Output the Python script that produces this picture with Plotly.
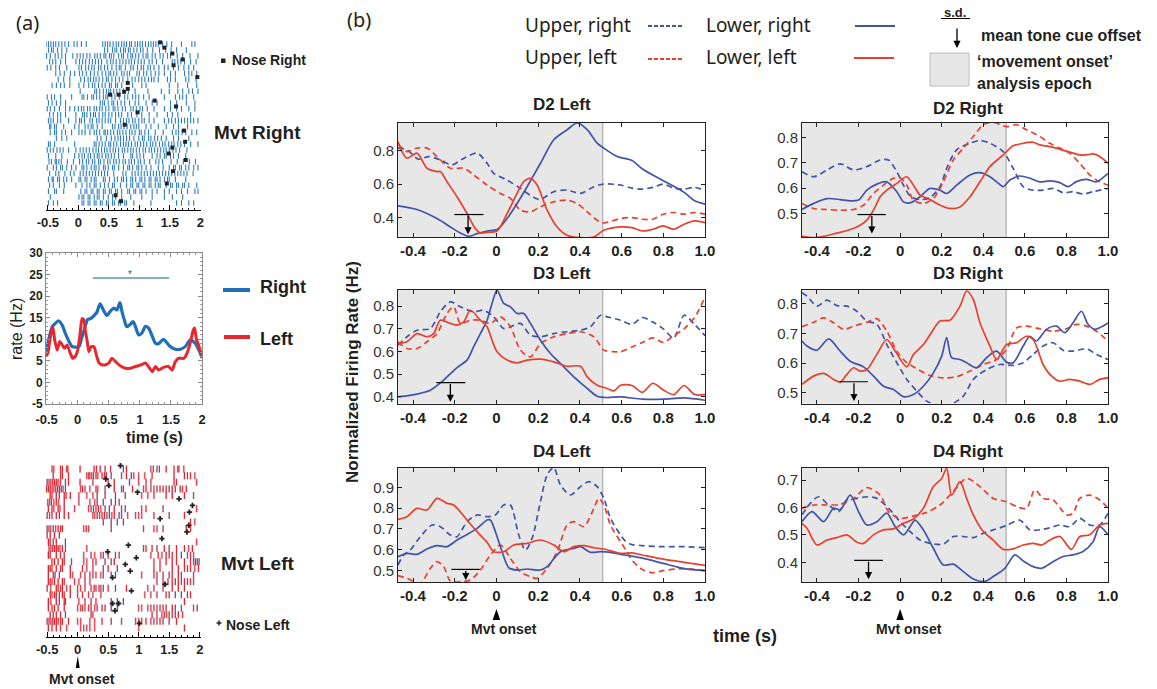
import plotly.graph_objects as go

W, H = 1157, 689
def fx(p): return p / W
def fy(p): return 1 - p / H

SANS = "Liberation Sans"
LEG = "Noto Sans"
INK = "#231f20"
BLUE_B = "#4354a6"
RED_B = "#e8402f"

# ------------------------------------------------------------------ panel (a) data
RASTER_RIGHT = [
    [-0.53,-0.49,-0.45,-0.41,-0.37,-0.32,-0.27,-0.22,-0.16,-0.07,-0.02,0.05,0.13,0.40,0.44,0.48,0.52,0.57,0.62,0.66,0.71,0.75,0.79,0.84,0.87,0.93,0.97,1.01,1.05,1.10,1.15,1.19,1.23,1.27,1.31,1.38,1.45,1.53,1.69,1.86,1.91],
    [-0.49,-0.44,-0.41,-0.34,-0.27,-0.19,0.43,0.48,0.56,0.60,0.63,0.69,0.74,0.77,0.82,0.85,0.91,0.96,1.02,1.06,1.13,1.22,1.33,1.43,1.52,1.61,1.77],
    [-0.52,-0.46,-0.38,-0.33,-0.27,-0.21,-0.09,-0.02,0.03,0.08,0.14,0.19,0.27,0.31,0.36,0.42,0.45,0.51,0.54,0.58,0.66,0.71,0.74,0.81,0.86,0.89,0.94,0.99,1.06,1.11,1.14,1.21,1.26,1.34,1.39,1.46,1.51,1.62,1.71,1.83,1.96],
    [-0.47,-0.42,-0.37,-0.29,-0.21,-0.04,0.02,0.07,0.12,0.18,0.23,0.28,0.33,0.38,0.47,0.53,0.57,0.62,0.68,0.73,0.78,0.83,0.87,0.92,0.98,1.03,1.08,1.16,1.21,1.28,1.38,1.54,1.58,1.63,1.68,1.74,1.84,1.93],
    [-0.51,-0.45,-0.37,-0.31,-0.19,0.01,0.05,0.12,0.17,0.22,0.26,0.33,0.37,0.43,0.48,0.55,0.62,0.67,0.70,0.77,0.86,0.90,0.97,1.03,1.07,1.14,1.18,1.24,1.32,1.41,1.47,1.56,1.64,1.73,1.81,1.89],
    [-0.37,-0.30,-0.23,-0.13,-0.06,0.02,0.07,0.13,0.20,0.26,0.32,0.39,0.45,0.50,0.53,0.58,0.63,0.71,0.75,0.80,0.84,0.96,1.00,1.07,1.12,1.19,1.26,1.32,1.41,1.51,1.59,1.74,1.81,1.86,1.94],
    [-0.33,-0.24,-0.14,0.04,0.10,0.16,0.20,0.25,0.29,0.34,0.40,0.46,0.49,0.55,0.61,0.67,0.73,0.81,0.88,0.93,0.99,1.04,1.09,1.15,1.20,1.24,1.31,1.46,1.51,1.59,1.76,1.81,1.93],
    [-0.43,-0.36,-0.29,-0.23,-0.14,0.01,0.09,0.17,0.23,0.27,0.33,0.39,0.44,0.51,0.54,0.61,0.64,0.71,0.89,1.04,1.11,1.49,1.63,1.79,1.94],
    [0.03,0.27,0.30,0.35,0.41,0.46,0.50,0.53,0.58,0.63,0.68,0.74,0.82,0.93,1.14,1.36,1.49,1.63,1.71,1.81,1.87,1.96],
    [-0.51,-0.44,-0.39,-0.29,-0.11,0.06,0.09,0.15,0.22,0.25,0.30,0.35,0.41,0.45,0.48,0.55,0.60,0.67,0.76,0.81,0.89,0.94,0.99,1.07,1.16,1.41,1.59,1.66,1.71,1.77,1.89],
    [-0.49,-0.43,-0.36,-0.29,-0.21,0.36,0.40,0.43,0.49,0.55,0.58,0.64,0.70,0.76,0.84,0.93,0.99,1.11,1.21,1.29,1.51,1.61,1.77,1.91],
    [-0.51,-0.46,-0.39,-0.31,-0.21,-0.14,-0.06,0.00,0.05,0.09,0.15,0.19,0.26,0.30,0.35,0.39,0.45,0.50,0.57,0.60,0.65,0.72,0.77,0.86,0.90,0.95,1.01,1.05,1.13,1.24,1.41,1.51,1.61,1.69,1.81,1.91],
    [-0.47,-0.41,-0.34,-0.29,-0.21,-0.04,0.07,0.10,0.14,0.20,0.25,0.28,0.34,0.40,0.44,0.50,0.55,0.61,0.66,0.71,0.81,0.87,0.96,1.04,1.16,1.29,1.46,1.54,1.63,1.84],
    [-0.49,-0.45,-0.41,-0.34,-0.29,-0.16,-0.04,0.02,0.05,0.10,0.19,0.23,0.30,0.34,0.39,0.44,0.49,0.53,0.61,0.69,0.74,0.79,0.83,0.89,0.93,0.99,1.04,1.08,1.16,1.24,1.41,1.48,1.53,1.59,1.64,1.69,1.74,1.79,1.84,1.89,1.96],
    [-0.47,-0.45,-0.39,-0.36,-0.24,-0.06,0.01,0.11,0.16,0.21,0.24,0.31,0.39,0.56,0.60,0.66,0.70,0.75,0.80,0.86,0.91,0.95,0.99,1.11,1.19,1.31,1.44,1.56,1.64,1.79],
    [-0.46,-0.39,-0.36,-0.27,-0.21,-0.11,0.01,0.06,0.11,0.19,0.26,0.30,0.35,0.42,0.44,0.48,0.53,0.58,0.64,0.68,0.73,0.78,0.84,0.88,0.93,1.00,1.03,1.09,1.15,1.26,1.39,1.54,1.60,1.64,1.70,1.76,1.86,1.94],
    [-0.36,-0.27,-0.19,0.31,0.37,0.46,0.54,0.60,0.65,0.69,0.74,0.79,0.84,0.91,0.99,1.05,1.08,1.15,1.19,1.25,1.30,1.36,1.44,1.56,1.64,1.81],
    [-0.49,-0.46,-0.39,-0.06,0.26,0.29,0.34,0.39,0.44,0.50,0.53,0.58,0.63,0.69,0.74,0.78,0.82,0.87,0.93,0.97,1.02,1.07,1.12,1.18,1.22,1.27,1.33,1.38,1.42,1.48,1.53,1.57,1.63,1.68,1.74,1.84,1.96],
    [-0.51,-0.46,-0.41,-0.35,-0.30,-0.25,-0.16,-0.04,0.03,0.08,0.13,0.18,0.24,0.29,0.33,0.38,0.43,0.47,0.52,0.57,0.61,0.66,0.72,0.76,0.81,0.86,0.90,0.95,1.00,1.06,1.10,1.16,1.20,1.25,1.30,1.35,1.40,1.44,1.49,1.55,1.60,1.66,1.78],
    [-0.49,-0.37,-0.27,-0.06,0.01,0.06,0.10,0.16,0.20,0.26,0.31,0.34,0.39,0.45,0.49,0.54,0.59,0.66,0.74,0.86,0.89,0.96,1.01,1.07,1.21,1.29,1.34,1.41,1.44,1.51,1.56,1.64,1.76],
    [-0.48,-0.44,-0.38,-0.36,-0.32,-0.28,-0.18,-0.08,0.02,0.07,0.13,0.17,0.23,0.27,0.33,0.36,0.42,0.48,0.52,0.58,0.62,0.67,0.73,0.77,0.83,0.87,0.92,0.98,1.02,1.08,1.17,1.27,1.32,1.38,1.52,1.62,1.72,1.82,1.92],
    [-0.51,-0.41,-0.36,-0.29,-0.26,-0.19,-0.11,-0.04,0.06,0.09,0.14,0.21,0.26,0.29,0.34,0.41,0.44,0.49,0.56,0.59,0.66,0.74,0.81,0.84,0.89,0.96,0.99,1.04,1.11,1.19,1.31,1.39,1.49,1.56,1.59,1.66,1.69,1.76,1.81,1.89,1.96],
    [-0.47,-0.37,-0.32,-0.22,-0.13,-0.07,0.03,0.08,0.13,0.18,0.23,0.28,0.33,0.38,0.43,0.48,0.58,0.73,0.78,0.88,0.93,0.98,1.03,1.08,1.13,1.18,1.23,1.28,1.33,1.38,1.43,1.48,1.53,1.58,1.63,1.68,1.73,1.78,1.88],
    [-0.49,-0.43,-0.41,-0.34,-0.31,-0.24,-0.19,-0.11,0.01,0.04,0.11,0.14,0.21,0.26,0.29,0.41,0.44,0.51,0.59,0.64,0.71,0.74,0.79,0.86,0.89,0.94,1.01,1.04,1.09,1.16,1.19,1.26,1.29,1.34,1.41,1.46,1.49,1.59,1.76],
    [-0.47,-0.41,-0.31,-0.23,-0.04,0.06,0.14,0.19,0.26,0.29,0.36,0.43,0.49,0.56,0.59,0.69,0.79,0.86,0.89,0.96,0.99,1.06,1.09,1.16,1.19,1.26,1.31,1.34,1.44,1.51,1.54,1.61,1.64,1.71,1.74,1.81,1.94],
    [-0.49,-0.39,-0.36,-0.24,0.04,0.11,0.14,0.21,0.24,0.31,0.34,0.41,0.44,0.51,0.54,0.61,0.64,0.71,0.81,0.84,0.91,0.94,1.01,1.04,1.11,1.21,1.29,1.41,1.49,1.61,1.69,1.79,1.91,1.96],
    [-0.46,0.01,0.06,0.09,0.16,0.19,0.26,0.31,0.34,0.41,0.49,0.56,0.61,0.71,0.86,1.04,1.21,1.41,1.54,1.71],
    [-0.49,-0.41,-0.34,0.06,0.09,0.16,0.19,0.26,0.29,0.36,0.39,0.46,0.49,0.56,0.59,0.66,0.69,0.76,0.79,0.91,1.19,1.61,1.69,1.81,1.89],
]
NOSE_RIGHT_T = [1.34,1.41,1.54,1.71,1.56,1.95,0.81,0.81,0.75,0.52,0.66,1.25,1.60,0.97,0.76,1.73,1.75,1.54,1.48,1.76,1.55,1.45,0.61,0.70]
NOSE_RIGHT_ROW = [-0.3,0.6,1.6,2.6,3.6,5.6,6.6,7.6,8.1,8.6,8.6,9.6,10.6,11.6,13.7,14.7,16.6,17.6,18.6,19.7,21.6,23.7,25.7,26.7]

RASTER_LEFT = [
    [-0.42,-0.39,-0.28,-0.25,-0.18,-0.16,0.04,0.27,0.31,0.37,0.45,0.54,0.75,0.8,1.2,1.24,1.3,1.34,1.45,1.58,1.64,1.66,1.74],
    [-0.4,-0.28,-0.25,-0.15,0.15,0.18,0.2,0.23,0.26,0.3,0.33,0.4,0.44,0.47,0.55,0.72,0.8,0.88,0.92,1.0,1.1,1.22,1.58,1.75,1.8,1.85,1.92],
    [-0.5,-0.47,-0.44,-0.41,-0.38,-0.35,-0.32,-0.28,-0.2,-0.15,0.04,0.25,0.5,0.6,0.85,1.0,1.12,1.2,1.58,1.62,1.95],
    [-0.51,-0.48,-0.45,-0.42,-0.39,-0.36,-0.33,-0.3,-0.27,-0.24,-0.2,0.05,0.08,0.12,0.2,0.3,0.33,0.45,0.6,0.72,0.75,0.9,1.08,1.12,1.2,1.25,1.3,1.35,1.4,1.45,1.5,1.55,1.6,1.68,1.72,1.78],
    [-0.45,-0.42,-0.35,-0.3,-0.22,-0.19,-0.12,0.02,0.15,0.25,0.32,0.45,0.62,0.78,1.05,1.15,1.25,1.45,1.55,1.75,1.9],
    [-0.49,-0.46,-0.43,-0.39,-0.35,-0.31,-0.22,0.02,0.2,0.28,0.32,0.42,0.55,0.62,0.68],
    [-0.48,-0.42,-0.39,-0.32,-0.29,-0.22,-0.05,0.18,0.22,0.26,0.3,0.34,0.38,0.45,0.52,0.6,0.72,0.78,1.05,1.12,1.4,1.95],
    [-0.5,-0.46,-0.42,-0.35,-0.3,-0.22,-0.15,0.25,0.28,0.32,0.36,0.4,0.44,0.48,0.52,0.56,0.6,0.68,0.72,0.82,0.95,1.0,1.05,1.25,1.5,1.75],
    [0.42,0.55,0.65,0.75,1.85,1.92],
    [-0.5,-0.47,-0.44,-0.4,-0.36,-0.32,-0.28,-0.25,0.1,0.14,0.18,0.55,1.08,1.25,1.3,1.4,1.78,1.85],
    [-0.5,-0.45,-0.38,-0.3],
    [-0.48,-0.45,-0.4,-0.35,-0.2,1.95],
    [-0.47,-0.44,-0.41,-0.38,-0.35,-0.32,-0.29,-0.25,-0.2,0.15,1.08,1.12,1.22,1.3,1.42,1.5,1.62,1.75,1.82,1.88],
    [-0.48,-0.45,-0.35,-0.28,-0.22,0.1,0.22,0.28,0.38,0.42,0.5,0.62,0.68,1.2,1.32,1.38,1.45,1.5,1.55,1.62,1.7,1.8,1.85,1.9],
    [-0.42,-0.38,-0.32,-0.25,-0.22,-0.1,0.1,0.15,0.25,0.3,0.45,0.55,0.6,1.25,1.35,1.45,1.55,1.62,1.75,1.85,1.9,1.93,1.96,1.99],
    [-0.48,-0.45,-0.42,-0.35,-0.28,-0.25,-0.12,0.08,0.15,0.25,0.42,0.5,0.65,1.25,1.35,1.55,1.65,1.75,1.8,1.85,1.92,1.98],
    [-0.48,-0.4,-0.37,-0.3,-0.12,-0.08,0.05,0.12,0.2,0.25,0.3,0.38,0.42,0.55,0.62,1.05,1.25,1.3,1.4,1.5,1.55,1.65,1.7,1.9],
    [-0.48,-0.45,-0.42,-0.38,-0.32,-0.25,-0.22,-0.05,0.02,0.12,0.2,1.3,1.4,1.48,1.55,1.6,1.65,1.7,1.75,1.8,1.85,1.9],
    [-0.5,-0.44,-0.35,-0.32,-0.28,-0.25,-0.18,-0.12,0.0,0.05,0.12,0.22,0.27,0.3,0.35,0.38,0.42,0.5,0.62,0.8,1.15,1.25,1.4,1.55,1.65,1.75],
    [-0.45,-0.42,-0.38,-0.35,-0.3,-0.25,-0.22,-0.12,0.0,0.08,0.18,0.25,0.38,1.1,1.2,1.3,1.45,1.5,1.6,1.7,1.8,1.85],
    [-0.48,-0.44,-0.35,-0.3,-0.22,-0.2,0.02,0.12,0.22,0.3,0.55,0.65,0.75,1.75],
    [-0.48,-0.42,-0.38,-0.32,-0.22,0.0,0.05,0.08,0.12,0.18,0.22,0.28,0.32,0.4,0.45,0.55,0.65,1.0,1.05,1.15,1.2,1.25,1.3,1.35,1.4,1.45,1.55,1.6,1.7,1.9,1.96],
    [-0.45,-0.4,-0.35,-0.28,-0.2,0.22,0.25,1.22,1.3,1.38,1.42,1.46,1.5,1.55,1.6,1.65,1.72],
    [-0.5,-0.47,-0.44,-0.41,-0.38,-0.35,-0.32,-0.28,-0.25,-0.15,0.0,0.05,0.2,0.28,0.4,0.55,0.72,0.95,1.0,1.05,1.12,1.2,1.25,1.3,1.35,1.4,1.5,1.62],
    [-0.48,-0.42,-0.35,-0.28,-0.18,0.05,0.1,0.15,0.2,0.28,1.0,1.75],
]
NOSE_LEFT_T = [0.70,0.46,0.51,0.98,1.66,1.88,1.83,1.35,1.82,1.79,1.38,0.83,0.49,0.96,0.78,0.86,0.57,1.43,0.88,0.57,0.67,0.61,1.01]
NOSE_LEFT_ROW = [-0.5,1.5,2.5,3.5,4.5,5.5,6.5,7.5,8.5,9.5,10.5,11.5,12.5,13.4,14.4,15.4,16.4,17.4,18.4,20.3,20.3,21.4,23.3]

RATE_T_RIGHT = [-0.51,-0.47,-0.41,-0.36,-0.31,-0.25,-0.20,-0.14,-0.09,-0.04,0.02,0.07,0.12,0.16,0.21,0.27,0.31,0.36,0.42,0.47,0.53,0.58,0.63,0.68,0.71,0.75,0.79,0.85,0.89,0.93,0.98,1.03,1.09,1.14,1.20,1.25,1.30,1.38,1.44,1.49,1.57,1.65,1.73,1.81,1.89,1.96,2.0]
RATE_RIGHT = [7.2,9.8,12.9,13.7,14.3,13.3,11.4,9.5,8.3,8.2,8.3,10.6,12.9,14.6,14.8,15.6,16.3,18.2,16.6,15.5,16.6,17.2,16.8,18.5,16.6,14.5,12.9,13.5,14.1,12.9,11.0,11.4,13.0,12.6,10.7,9.1,9.0,10.0,9.1,8.3,7.7,7.7,8.3,9.8,9.1,7.2,5.7]
RATE_T_LEFT = [-0.51,-0.48,-0.44,-0.40,-0.37,-0.33,-0.29,-0.25,-0.21,-0.17,-0.12,-0.08,-0.04,0.0,0.04,0.07,0.10,0.12,0.15,0.18,0.21,0.26,0.30,0.34,0.39,0.45,0.50,0.55,0.61,0.69,0.77,0.85,0.93,1.01,1.09,1.14,1.20,1.25,1.30,1.38,1.46,1.52,1.57,1.62,1.71,1.76,1.81,1.86,1.88,1.91,1.95,2.0]
RATE_LEFT = [6.0,6.8,10.6,12.9,9.8,7.5,9.5,8.7,7.9,8.7,6.8,5.6,6.0,7.5,11.4,14.8,14.5,12.2,9.8,7.1,8.2,8.3,6.4,4.6,4.1,4.1,4.5,5.6,4.8,3.8,3.3,3.3,3.7,4.0,4.5,3.7,2.5,3.7,2.9,3.5,3.7,2.9,4.8,5.6,5.6,6.8,9.1,12.2,12.6,10.0,8.5,5.7]
SIG_T = [0.245, 1.47]
SIG_Y = [24.2, 24.2]

# ------------------------------------------------------------------ panel (b) data
D2L_LR_T = [-0.472,-0.381,-0.285,-0.221,-0.173,-0.133,-0.093,-0.045,0.003,0.051,0.099,0.147,0.211,0.275,0.339,0.387,0.435,0.483,0.515,0.579,0.65,0.7,0.8,0.9,0.95,1.0]
D2L_LR = [0.47,0.448,0.394,0.344,0.308,0.288,0.304,0.32,0.328,0.394,0.484,0.584,0.724,0.864,0.924,0.964,0.924,0.844,0.814,0.764,0.74,0.69,0.62,0.55,0.5,0.48]
D2L_UR_T = [-0.472,-0.429,-0.373,-0.325,-0.269,-0.213,-0.165,-0.093,-0.045,-0.013,0.051,0.115,0.179,0.211,0.275,0.339,0.403,0.467,0.515,0.595,0.65,0.7,0.75,0.8,0.85,0.9,0.95,1.0]
D2L_UR = [0.814,0.804,0.748,0.764,0.744,0.714,0.748,0.784,0.724,0.664,0.624,0.574,0.52,0.508,0.554,0.564,0.544,0.584,0.6,0.594,0.575,0.57,0.58,0.6,0.575,0.57,0.58,0.56]
D2L_LL_T = [-0.472,-0.453,-0.429,-0.381,-0.333,-0.285,-0.269,-0.237,-0.189,-0.141,-0.101,-0.077,-0.045,0.003,0.051,0.099,0.131,0.163,0.195,0.243,0.291,0.339,0.403,0.467,0.515,0.595,0.65,0.7,0.75,0.8,0.85,0.9,0.95,1.0]
D2L_LL = [0.854,0.794,0.754,0.784,0.694,0.674,0.674,0.614,0.524,0.424,0.334,0.308,0.312,0.32,0.424,0.544,0.614,0.634,0.594,0.444,0.344,0.294,0.28,0.284,0.324,0.344,0.34,0.32,0.33,0.35,0.33,0.36,0.38,0.37]
D2L_UL_T = [-0.472,-0.429,-0.381,-0.333,-0.285,-0.221,-0.157,-0.109,-0.045,0.019,0.067,0.115,0.163,0.211,0.275,0.339,0.387,0.435,0.483,0.515,0.595,0.65,0.7,0.75,0.8,0.85,0.9,0.95,1.0]
D2L_UL = [0.84,0.794,0.814,0.814,0.764,0.694,0.694,0.654,0.594,0.544,0.514,0.444,0.434,0.464,0.494,0.504,0.484,0.434,0.384,0.368,0.394,0.40,0.39,0.39,0.42,0.43,0.42,0.43,0.42]

D2R_LR_T = [-0.472,-0.416,-0.352,-0.288,-0.24,-0.2,-0.16,-0.112,-0.064,-0.016,0.016,0.048,0.096,0.144,0.192,0.224,0.272,0.336,0.384,0.432,0.464,0.496,0.528,0.576,0.624,0.672,0.72,0.768,0.808,0.848,0.896,0.944,1.0]
D2R_LR = [0.516,0.540,0.559,0.555,0.550,0.553,0.592,0.616,0.625,0.586,0.546,0.542,0.566,0.599,0.592,0.579,0.612,0.652,0.661,0.645,0.625,0.606,0.632,0.648,0.639,0.625,0.629,0.622,0.606,0.626,0.635,0.625,0.658]
D2R_UR_T = [-0.472,-0.416,-0.352,-0.288,-0.224,-0.16,-0.096,-0.056,-0.016,0.016,0.048,0.096,0.144,0.192,0.224,0.272,0.336,0.384,0.432,0.496,0.544,0.592,0.64,0.688,0.736,0.784,0.832,0.88,0.928,1.0]
D2R_UR = [0.665,0.645,0.672,0.696,0.672,0.685,0.711,0.711,0.665,0.612,0.569,0.555,0.563,0.606,0.678,0.751,0.777,0.788,0.777,0.744,0.678,0.606,0.592,0.592,0.599,0.582,0.586,0.577,0.586,0.599]
D2R_LL_T = [-0.472,-0.416,-0.368,-0.304,-0.24,-0.192,-0.16,-0.128,-0.096,-0.064,-0.016,0.032,0.064,0.096,0.144,0.192,0.24,0.288,0.336,0.384,0.432,0.496,0.544,0.592,0.64,0.672,0.72,0.768,0.816,0.864,0.896,0.928,0.96,1.0]
D2R_LL = [0.41,0.405,0.41,0.423,0.437,0.454,0.474,0.513,0.566,0.592,0.619,0.645,0.612,0.573,0.555,0.533,0.52,0.526,0.566,0.625,0.685,0.731,0.767,0.777,0.781,0.771,0.764,0.754,0.742,0.731,0.731,0.735,0.725,0.698]
D2R_UL_T = [-0.472,-0.416,-0.352,-0.288,-0.224,-0.176,-0.128,-0.08,-0.032,0.0,0.032,0.064,0.112,0.16,0.208,0.256,0.304,0.352,0.4,0.448,0.512,0.56,0.608,0.672,0.72,0.768,0.816,0.864,0.912,0.96,1.0]
D2R_UL = [0.54,0.52,0.516,0.513,0.516,0.533,0.579,0.612,0.639,0.641,0.612,0.553,0.54,0.559,0.625,0.711,0.758,0.804,0.85,0.86,0.843,0.85,0.83,0.804,0.777,0.758,0.738,0.698,0.652,0.625,0.612]

D3L_LR_T = [-0.472,-0.381,-0.317,-0.253,-0.189,-0.141,-0.109,-0.077,-0.045,-0.021,0.003,0.035,0.067,0.099,0.131,0.163,0.211,0.259,0.307,0.371,0.435,0.483,0.531,0.595,0.7,0.8,0.9,1.0]
D3L_LR = [0.4,0.412,0.429,0.474,0.529,0.562,0.621,0.679,0.738,0.812,0.871,0.812,0.797,0.768,0.768,0.724,0.65,0.591,0.547,0.488,0.437,0.403,0.397,0.4,0.39,0.39,0.395,0.385]
D3L_UR_T = [-0.472,-0.429,-0.381,-0.317,-0.269,-0.221,-0.173,-0.109,-0.061,-0.013,0.035,0.067,0.115,0.163,0.211,0.275,0.339,0.403,0.451,0.499,0.531,0.595,0.65,0.7,0.75,0.8,0.85,0.9,0.95,1.0]
D3L_UR = [0.628,0.665,0.694,0.701,0.775,0.819,0.797,0.775,0.782,0.753,0.701,0.709,0.724,0.672,0.665,0.679,0.687,0.694,0.709,0.76,0.753,0.738,0.72,0.75,0.73,0.70,0.66,0.76,0.72,0.67]
D3L_LL_T = [-0.472,-0.429,-0.381,-0.333,-0.301,-0.269,-0.221,-0.189,-0.157,-0.125,-0.077,-0.045,-0.021,0.003,0.051,0.099,0.147,0.211,0.275,0.339,0.403,0.435,0.483,0.531,0.563,0.595,0.65,0.7,0.75,0.8,0.85,0.9,0.95,1.0]
D3L_LL = [0.635,0.643,0.679,0.665,0.679,0.738,0.724,0.716,0.731,0.782,0.738,0.709,0.65,0.599,0.562,0.55,0.562,0.566,0.554,0.535,0.535,0.488,0.451,0.437,0.426,0.451,0.45,0.42,0.46,0.43,0.41,0.45,0.41,0.41]
D3L_UL_T = [-0.472,-0.429,-0.381,-0.333,-0.285,-0.237,-0.205,-0.173,-0.125,-0.077,-0.029,0.019,0.067,0.115,0.163,0.211,0.275,0.339,0.403,0.467,0.515,0.563,0.595,0.65,0.7,0.75,0.8,0.85,0.9,0.95,1.0]
D3L_UL = [0.643,0.613,0.613,0.643,0.679,0.768,0.797,0.724,0.738,0.738,0.724,0.753,0.709,0.606,0.576,0.635,0.665,0.679,0.687,0.665,0.606,0.599,0.599,0.62,0.64,0.66,0.64,0.67,0.70,0.75,0.84]

D3R_LR_T = [-0.472,-0.448,-0.4,-0.344,-0.288,-0.24,-0.176,-0.128,-0.08,-0.032,0.016,0.064,0.112,0.16,0.2,0.224,0.248,0.288,0.32,0.368,0.416,0.464,0.512,0.544,0.592,0.624,0.656,0.704,0.752,0.792,0.832,0.872,0.904,0.936,0.976,1.0]
D3R_LR = [0.674,0.657,0.643,0.681,0.64,0.606,0.587,0.556,0.522,0.511,0.487,0.494,0.522,0.567,0.623,0.685,0.618,0.612,0.601,0.584,0.618,0.64,0.603,0.601,0.657,0.69,0.674,0.713,0.724,0.702,0.735,0.774,0.73,0.713,0.724,0.735]
D3R_UR_T = [-0.472,-0.448,-0.4,-0.352,-0.304,-0.256,-0.208,-0.16,-0.112,-0.064,-0.016,0.032,0.08,0.128,0.176,0.24,0.304,0.352,0.416,0.48,0.544,0.592,0.64,0.688,0.736,0.784,0.832,0.896,0.944,1.0]
D3R_UR = [0.836,0.825,0.791,0.811,0.793,0.791,0.774,0.741,0.73,0.662,0.601,0.545,0.506,0.472,0.46,0.46,0.489,0.545,0.578,0.595,0.592,0.601,0.629,0.657,0.668,0.643,0.64,0.648,0.629,0.612]
D3R_LL_T = [-0.472,-0.416,-0.368,-0.32,-0.288,-0.256,-0.224,-0.192,-0.16,-0.112,-0.064,-0.024,0.032,0.064,0.112,0.16,0.192,0.24,0.288,0.32,0.352,0.384,0.432,0.464,0.512,0.56,0.608,0.64,0.688,0.72,0.768,0.816,0.864,0.912,0.96,1.0]
D3R_LL = [0.528,0.556,0.565,0.545,0.536,0.562,0.584,0.573,0.578,0.629,0.679,0.64,0.587,0.629,0.662,0.713,0.741,0.744,0.791,0.842,0.814,0.735,0.657,0.612,0.662,0.668,0.69,0.679,0.595,0.562,0.539,0.545,0.539,0.528,0.545,0.55]
D3R_UL_T = [-0.472,-0.416,-0.368,-0.32,-0.272,-0.224,-0.16,-0.112,-0.064,-0.016,0.032,0.08,0.144,0.208,0.272,0.336,0.4,0.464,0.512,0.56,0.608,0.672,0.736,0.8,0.848,0.896,0.944,1.0]
D3R_UL = [0.722,0.737,0.752,0.735,0.713,0.724,0.737,0.749,0.707,0.64,0.601,0.581,0.558,0.55,0.554,0.573,0.595,0.612,0.646,0.718,0.724,0.715,0.707,0.715,0.73,0.724,0.707,0.674]

D4L_LR_T = [-0.472,-0.429,-0.381,-0.333,-0.285,-0.237,-0.189,-0.141,-0.093,-0.045,-0.029,-0.005,0.027,0.059,0.099,0.147,0.211,0.243,0.307,0.371,0.403,0.451,0.499,0.547,0.595,0.65,0.7,0.8,0.9,1.0]
D4L_LR = [0.567,0.583,0.578,0.604,0.62,0.615,0.647,0.674,0.703,0.743,0.743,0.687,0.591,0.514,0.503,0.508,0.503,0.519,0.591,0.607,0.615,0.588,0.591,0.588,0.578,0.57,0.56,0.535,0.51,0.5]
D4L_UR_T = [-0.472,-0.445,-0.413,-0.365,-0.309,-0.269,-0.221,-0.189,-0.141,-0.093,-0.045,-0.005,0.035,0.067,0.107,0.139,0.171,0.211,0.243,0.275,0.307,0.355,0.403,0.443,0.483,0.515,0.547,0.595,0.62,0.65,0.7,0.8,0.9,1.0]
D4L_UR = [0.527,0.575,0.599,0.663,0.719,0.711,0.671,0.663,0.735,0.767,0.759,0.767,0.815,0.815,0.671,0.599,0.655,0.831,0.959,0.995,0.911,0.863,0.903,0.927,0.903,0.847,0.751,0.671,0.64,0.625,0.62,0.615,0.615,0.61]
D4L_LL_T = [-0.472,-0.429,-0.381,-0.333,-0.285,-0.237,-0.205,-0.141,-0.093,-0.045,-0.013,0.035,0.083,0.147,0.211,0.275,0.323,0.371,0.419,0.467,0.515,0.595,0.65,0.7,0.8,0.9,1.0]
D4L_LL = [0.746,0.759,0.799,0.791,0.847,0.823,0.815,0.743,0.687,0.636,0.591,0.591,0.623,0.631,0.647,0.623,0.591,0.615,0.62,0.61,0.604,0.583,0.585,0.575,0.555,0.54,0.525]
D4L_UL_T = [-0.472,-0.429,-0.365,-0.317,-0.285,-0.253,-0.221,-0.173,-0.125,-0.077,-0.029,0.019,0.067,0.115,0.163,0.195,0.243,0.291,0.339,0.371,0.419,0.467,0.491,0.515,0.547,0.595,0.62,0.65,0.7,0.75,0.8,0.9,1.0]
D4L_UL = [0.476,0.463,0.44,0.511,0.543,0.519,0.45,0.447,0.455,0.503,0.575,0.623,0.559,0.495,0.471,0.463,0.511,0.591,0.719,0.735,0.711,0.799,0.847,0.815,0.719,0.639,0.6,0.55,0.505,0.49,0.5,0.51,0.5]

D4R_LR_T = [-0.472,-0.424,-0.368,-0.32,-0.288,-0.24,-0.2,-0.16,-0.112,-0.064,-0.024,0.016,0.048,0.072,0.112,0.16,0.208,0.256,0.304,0.352,0.408,0.448,0.504,0.552,0.592,0.64,0.68,0.736,0.784,0.832,0.88,0.928,0.96,1.0]
D4R_LR = [0.548,0.585,0.548,0.597,0.591,0.645,0.585,0.536,0.548,0.579,0.53,0.5,0.53,0.554,0.518,0.451,0.39,0.393,0.366,0.339,0.33,0.348,0.378,0.427,0.405,0.384,0.378,0.402,0.421,0.427,0.439,0.475,0.53,0.5]
D4R_UR_T = [-0.472,-0.432,-0.392,-0.344,-0.296,-0.256,-0.208,-0.16,-0.112,-0.072,-0.048,0.0,0.048,0.096,0.144,0.208,0.256,0.304,0.352,0.4,0.448,0.512,0.576,0.624,0.672,0.72,0.768,0.816,0.864,0.912,0.96,1.0]
D4R_UR = [0.573,0.615,0.639,0.609,0.585,0.627,0.633,0.639,0.633,0.609,0.591,0.548,0.512,0.481,0.469,0.466,0.494,0.494,0.49,0.506,0.518,0.534,0.554,0.518,0.518,0.526,0.536,0.53,0.56,0.536,0.536,0.579]
D4R_LL_T = [-0.472,-0.448,-0.4,-0.352,-0.304,-0.256,-0.208,-0.176,-0.128,-0.08,-0.032,0.016,0.064,0.112,0.16,0.2,0.224,0.248,0.288,0.32,0.352,0.4,0.448,0.496,0.544,0.592,0.64,0.68,0.72,0.768,0.824,0.864,0.912,0.96,1.0]
D4R_LL = [0.542,0.524,0.463,0.481,0.49,0.5,0.473,0.469,0.5,0.518,0.522,0.542,0.558,0.597,0.676,0.706,0.743,0.645,0.694,0.633,0.573,0.512,0.481,0.447,0.449,0.463,0.469,0.463,0.481,0.494,0.447,0.494,0.5,0.536,0.542]
D4R_UL_T = [-0.472,-0.416,-0.352,-0.288,-0.224,-0.16,-0.096,-0.056,0.0,0.064,0.128,0.192,0.256,0.32,0.384,0.448,0.512,0.56,0.608,0.648,0.688,0.736,0.8,0.832,0.864,0.912,0.96,1.0]
D4R_UL = [0.597,0.609,0.609,0.611,0.633,0.672,0.645,0.585,0.56,0.569,0.582,0.609,0.658,0.706,0.676,0.633,0.621,0.603,0.597,0.664,0.633,0.627,0.573,0.579,0.633,0.645,0.627,0.597]

# s.d. bars and arrows (mean tone cue offset): [x_left, x_right, x_arrow, y_bar, y_tip]
SD_D2L = [-0.202, -0.062, -0.136, 0.418, 0.30]
SD_D2R = [-0.205, -0.069, -0.136, 0.496, 0.421]
SD_D3L = [-0.288, -0.149, -0.221, 0.463, 0.378]
SD_D3R = [-0.291, -0.155, -0.222, 0.537, 0.472]
SD_D4L = [-0.216, -0.080, -0.147, 0.506, 0.455]
SD_D4R = [-0.221, -0.083, -0.152, 0.407, 0.338]

EPOCH = [-0.472, 0.51]
X_TICKS_B = [-0.4, -0.2, 0, 0.2, 0.4, 0.6, 0.8, 1.0]
X_TICKTEXT_B = ["-0.4", "-0.2", "0", "0.2", "0.4", "0.6", "0.8", "1.0"]
X_TICKS_A = [-0.5, 0, 0.5, 1, 1.5, 2]
X_TICKTEXT_A = ["-0.5", "0", "0.5", "1", "1.5", "2"]
Y_TICKS_RATE = [-5, 0, 5, 10, 15, 20, 25, 30]

# ------------------------------------------------------------------ figure
fig = go.Figure()

def raster(trials, axis_idx, color, size, shadow=None):
    xs, ys = [], []
    for i, tr in enumerate(trials):
        xs += tr
        ys += [i] * len(tr)
    sfx = "" if axis_idx == 1 else str(axis_idx)
    if shadow:
        fig.add_trace(go.Scatter(x=[v - 0.011 for v in xs], y=ys, mode="markers",
                                 marker=dict(symbol="line-ns", size=size, line=dict(width=0.9, color=shadow)),
                                 xaxis="x" + sfx, yaxis="y" + sfx, hoverinfo="skip", showlegend=False))
    fig.add_trace(go.Scatter(x=xs, y=ys, mode="markers",
                             marker=dict(symbol="line-ns", size=size, line=dict(width=1.1, color=color)),
                             xaxis="x" + sfx, yaxis="y" + sfx, hoverinfo="skip", showlegend=False))

raster(RASTER_RIGHT, 1, "#2a7dc0", 4)
fig.add_trace(go.Scatter(x=NOSE_RIGHT_T, y=NOSE_RIGHT_ROW, mode="markers",
                         marker=dict(symbol="square", size=4, color="#222"),
                         xaxis="x", yaxis="y", showlegend=False, hoverinfo="skip"))

fig.add_trace(go.Scatter(x=RATE_T_RIGHT, y=RATE_RIGHT, mode="lines", line=dict(color="#1f6fb8", width=3.2, shape="spline", smoothing=0.7),
                         xaxis="x2", yaxis="y2", showlegend=False))
fig.add_trace(go.Scatter(x=RATE_T_LEFT, y=RATE_LEFT, mode="lines", line=dict(color="#e8262d", width=3.0, shape="spline", smoothing=0.6),
                         xaxis="x2", yaxis="y2", showlegend=False))
fig.add_trace(go.Scatter(x=SIG_T, y=SIG_Y, mode="lines", line=dict(color="#5f93ad", width=1.5),
                         xaxis="x2", yaxis="y2", showlegend=False))

raster(RASTER_LEFT, 3, "#e8202a", 5, shadow="#a9c9e8")
fig.add_trace(go.Scatter(x=NOSE_LEFT_T, y=NOSE_LEFT_ROW, mode="markers",
                         marker=dict(symbol="cross", size=4.5, color="#222"),
                         xaxis="x3", yaxis="y3", showlegend=False, hoverinfo="skip"))

PANELS = [
    (4, [(D2L_UR_T, D2L_UR, BLUE_B, "dash"), (D2L_UL_T, D2L_UL, RED_B, "dash"),
         (D2L_LR_T, D2L_LR, BLUE_B, "solid"), (D2L_LL_T, D2L_LL, RED_B, "solid")], SD_D2L),
    (5, [(D2R_UR_T, D2R_UR, BLUE_B, "dash"), (D2R_UL_T, D2R_UL, RED_B, "dash"),
         (D2R_LR_T, D2R_LR, BLUE_B, "solid"), (D2R_LL_T, D2R_LL, RED_B, "solid")], SD_D2R),
    (6, [(D3L_UR_T, D3L_UR, BLUE_B, "dash"), (D3L_UL_T, D3L_UL, RED_B, "dash"),
         (D3L_LR_T, D3L_LR, BLUE_B, "solid"), (D3L_LL_T, D3L_LL, RED_B, "solid")], SD_D3L),
    (7, [(D3R_UR_T, D3R_UR, BLUE_B, "dash"), (D3R_UL_T, D3R_UL, RED_B, "dash"),
         (D3R_LR_T, D3R_LR, BLUE_B, "solid"), (D3R_LL_T, D3R_LL, RED_B, "solid")], SD_D3R),
    (8, [(D4L_UR_T, D4L_UR, BLUE_B, "dash"), (D4L_UL_T, D4L_UL, RED_B, "dash"),
         (D4L_LR_T, D4L_LR, BLUE_B, "solid"), (D4L_LL_T, D4L_LL, RED_B, "solid")], SD_D4L),
    (9, [(D4R_UR_T, D4R_UR, BLUE_B, "dash"), (D4R_UL_T, D4R_UL, RED_B, "dash"),
         (D4R_LR_T, D4R_LR, BLUE_B, "solid"), (D4R_LL_T, D4R_LL, RED_B, "solid")], SD_D4R),
]

for idx, curves, sd in PANELS:
    for t, v, col, dash in curves:
        fig.add_trace(go.Scatter(x=t, y=v, mode="lines",
                                 line=dict(color=col, width=1.7, dash="6px,4px" if dash == "dash" else "solid",
                                           shape="spline", smoothing=0.8),
                                 xaxis=f"x{idx}", yaxis=f"y{idx}", showlegend=False, hoverinfo="skip"))
    fig.add_shape(type="rect", xref=f"x{idx}", yref=f"y{idx} domain", x0=EPOCH[0], x1=EPOCH[1], y0=0, y1=1,
                  fillcolor="#e7e7e7", line=dict(width=0), layer="below")
    fig.add_shape(type="line", xref=f"x{idx}", yref=f"y{idx} domain", x0=EPOCH[1], x1=EPOCH[1], y0=0, y1=1,
                  line=dict(color="#a0a0a0", width=1), layer="below")
    fig.add_shape(type="line", xref=f"x{idx}", yref=f"y{idx}", x0=sd[0], x1=sd[1], y0=sd[3], y1=sd[3],
                  line=dict(color="black", width=1.2))
    fig.add_annotation(x=sd[2], y=sd[4], ax=sd[2], ay=sd[3], xref=f"x{idx}", yref=f"y{idx}",
                       axref=f"x{idx}", ayref=f"y{idx}", text="", showarrow=True,
                       arrowhead=2, arrowsize=1.1, arrowwidth=1.3, arrowcolor="black")

# ------------------------------------------------------------------ axes
def tf(size, bold=True, color=INK):
    return dict(family=SANS, size=size, color=color, weight="bold" if bold else "normal")

layout = dict(template="none", width=W, height=H, margin=dict(l=0, r=0, t=0, b=0, pad=0, autoexpand=False),
              paper_bgcolor="white", plot_bgcolor="white", showlegend=False)

raster_x = dict(showline=True, linecolor="black", linewidth=1, ticks="inside", ticklen=5, tickcolor="black",
                tickvals=X_TICKS_A, ticktext=X_TICKTEXT_A, tickfont=tf(13), showgrid=False, zeroline=False,
                automargin=False,
                minor=dict(ticks="inside", ticklen=2.5, tickcolor="black", tickmode="linear", tick0=0, dtick=0.1))
layout["xaxis"] = dict(raster_x, domain=[fx(46), fx(201)], range=[-0.53, 2.01], anchor="y")
layout["yaxis"] = dict(domain=[fy(210), fy(40)], range=[28.2, -0.7], visible=False, anchor="x", automargin=False)

layout["xaxis2"] = dict(domain=[fx(46), fx(202)], range=[-0.51, 2.0], anchor="y2", showline=True, mirror="ticks",
                        linecolor="#8a8a8a", linewidth=1, ticks="inside", ticklen=4, tickcolor="#8a8a8a",
                        tickvals=X_TICKS_A, ticktext=X_TICKTEXT_A, tickfont=tf(13), showgrid=False, zeroline=False,
                        automargin=False, ticklabelstandoff=3,
                        minor=dict(ticks="inside", ticklen=2, tickcolor="#9a9a9a", tickmode="linear", tick0=0, dtick=0.1))
layout["yaxis2"] = dict(domain=[fy(404), fy(253)], range=[-5, 30], anchor="x2", showline=True, mirror="ticks",
                        linecolor="#8a8a8a", linewidth=1, ticks="inside", ticklen=4, tickcolor="#8a8a8a",
                        tickvals=Y_TICKS_RATE, ticktext=[str(v) for v in Y_TICKS_RATE], tickfont=tf(12),
                        showgrid=False, zeroline=False, automargin=False,
                        minor=dict(ticks="inside", ticklen=2, tickcolor="#9a9a9a", tickmode="linear", tick0=0, dtick=1))

layout["xaxis3"] = dict(raster_x, domain=[fx(46), fx(201)], range=[-0.52, 2.02], anchor="y3")
layout["yaxis3"] = dict(domain=[fy(637), fy(462)], range=[25.36, -1.06], visible=False, anchor="x3", automargin=False)

B_RANGES = {4: [0.284, 0.964], 5: [0.4075, 0.857], 6: [0.3706, 0.8735],
            7: [0.464, 0.847], 8: [0.4456, 0.994], 9: [0.328, 0.745]}
B_YTICKS = {4: [0.4, 0.6, 0.8], 5: [0.5, 0.6, 0.7, 0.8], 6: [0.4, 0.5, 0.6, 0.7, 0.8],
            7: [0.5, 0.6, 0.7, 0.8], 8: [0.5, 0.6, 0.7, 0.8, 0.9], 9: [0.4, 0.5, 0.6, 0.7]}
COLS = {"L": (398, 705), "R": (802, 1108)}
ROWS = {0: (123, 237), 1: (289.5, 403.5), 2: (467.7, 582)}
B_POS = {4: ("L", 0), 5: ("R", 0), 6: ("L", 1), 7: ("R", 1), 8: ("L", 2), 9: ("R", 2)}
for idx in range(4, 10):
    c, r = B_POS[idx]
    x0, x1 = COLS[c]
    y0, y1 = ROWS[r]
    layout[f"xaxis{idx}"] = dict(domain=[fx(x0), fx(x1)], range=[-0.472, 1.0], anchor=f"y{idx}",
                                 showline=True, mirror="ticks", linecolor="#222", linewidth=1,
                                 ticks="inside", ticklen=4, tickcolor="#222",
                                 tickvals=X_TICKS_B, ticktext=X_TICKTEXT_B, tickfont=tf(15),
                                 showgrid=False, zeroline=False, automargin=False)
    layout[f"yaxis{idx}"] = dict(domain=[fy(y1), fy(y0)], range=B_RANGES[idx], anchor=f"x{idx}",
                                 showline=True, mirror="ticks", linecolor="#222", linewidth=1,
                                 ticks="inside", ticklen=4, tickcolor="#222",
                                 tickvals=B_YTICKS[idx], ticktext=[f"{v:.1f}" for v in B_YTICKS[idx]],
                                 tickfont=tf(15, bold=False, color="#333"), showgrid=False, zeroline=False,
                                 automargin=False)
fig.update_layout(**layout)

# ------------------------------------------------------------------ text & decorations
def txt(x, y, s, size, bold=True, family=SANS, xa="center", ya="middle", angle=0, color=INK):
    fig.add_annotation(x=fx(x), y=fy(y), xref="paper", yref="paper", text=s, showarrow=False,
                       font=dict(family=family, size=size, color=color, weight="bold" if bold else "normal"),
                       xanchor=xa, yanchor=ya, textangle=angle, borderpad=0)

def pline(x0, y0, x1, y1, color, width, dash="solid"):
    fig.add_shape(type="line", xref="paper", yref="paper", x0=fx(x0), y0=fy(y0), x1=fx(x1), y1=fy(y1),
                  line=dict(color=color, width=width, dash=dash))

txt(27, 22, "(a)", 20, bold=False, family=LEG)
txt(359, 20, "(b)", 20, bold=False, family=LEG)

fig.add_shape(type="rect", xref="paper", yref="paper", x0=fx(221), x1=fx(225.5), y0=fy(63), y1=fy(58.5),
              fillcolor="#222", line=dict(width=0))
txt(231, 60, "Nose Right", 14, xa="left")
txt(257, 132, "Mvt Right", 19)
pline(223, 290, 250, 290, "#1f6fb8", 4)
txt(259, 287, "Right", 18, xa="left")
pline(224, 337, 250, 337, "#e8262d", 4)
txt(259, 339, "Left", 18, xa="left")
txt(16, 329, "rate (Hz)", 16, bold=False, angle=-90)
txt(130, 274, "*", 10, bold=False, color="#555")
txt(154, 437, "time (s)", 16)
txt(258, 563, "Mvt Left", 19)
pline(216.5, 623, 221.5, 623, "#222", 1.5)
pline(219, 620.5, 219, 625.5, "#222", 1.5)
txt(225, 625, "Nose Left", 14, xa="left")
fig.add_shape(type="path", xref="x3", yref="paper",
              path=f"M -0.032,{fy(668)} L 0.032,{fy(668)} L 0,{fy(656)} Z", fillcolor="black", line=dict(width=0))
txt(82, 679, "Mvt onset", 14)

txt(524, 25, "Upper, right", 19, bold=False, family=LEG, xa="left")
txt(524, 57, "Upper, left", 19, bold=False, family=LEG, xa="left")
txt(705, 25, "Lower, right", 19, bold=False, family=LEG, xa="left")
txt(705, 57, "Lower, left", 19, bold=False, family=LEG, xa="left")
pline(648, 26, 683, 26, BLUE_B, 2.2, "4px,2px")
pline(648, 59, 683, 59, RED_B, 2.2, "4px,2px")
pline(855, 26, 895, 26, BLUE_B, 2.2)
pline(854, 58, 894, 58, RED_B, 2.2)
txt(955, 12, "s.d.", 13)
pline(941, 18.5, 970, 18.5, "black", 1)
fig.add_annotation(x=fx(957), y=fy(48), ax=0, ay=-21, xref="paper", yref="paper",
                   axref="pixel", ayref="pixel", text="", showarrow=True, arrowhead=2, arrowsize=1.1,
                   arrowwidth=1.3, arrowcolor="black")
txt(980, 35, "mean tone cue offset", 16, xa="left")
fig.add_shape(type="rect", xref="paper", yref="paper", x0=fx(930), x1=fx(969), y0=fy(86), y1=fy(53),
              fillcolor="#e7e7e7", line=dict(color="#bdbdbd", width=1))
txt(976, 62, "\u2018movement onset\u2019", 16, xa="left")
txt(976, 83, "analysis epoch", 16, xa="left")

txt(562, 105, "D2 Left", 17)
txt(968, 108, "D2 Right", 17)
txt(562, 273, "D3 Left", 17)
txt(968, 273, "D3 Right", 17)
txt(562, 452, "D4 Left", 17)
txt(968, 452, "D4 Right", 17)

txt(352, 372, "Normalized Firing Rate (Hz)", 17, angle=-90)
txt(745, 636, "time (s)", 18)

for ax_idx, cx in ((8, 504), (9, 909)):
    fig.add_shape(type="path", xref=f"x{ax_idx}", yref="paper",
                  path=f"M -0.018,{fy(620)} L 0.018,{fy(620)} L 0,{fy(609)} Z", fillcolor="black", line=dict(width=0))
    txt(cx, 629, "Mvt onset", 14)

fig.write_html("out.html", config={"displayModeBar": False, "staticPlot": True},
               post_script="document.body.style.margin='0px';document.body.style.padding='0px';"
                           "document.body.style.overflow='hidden';")
